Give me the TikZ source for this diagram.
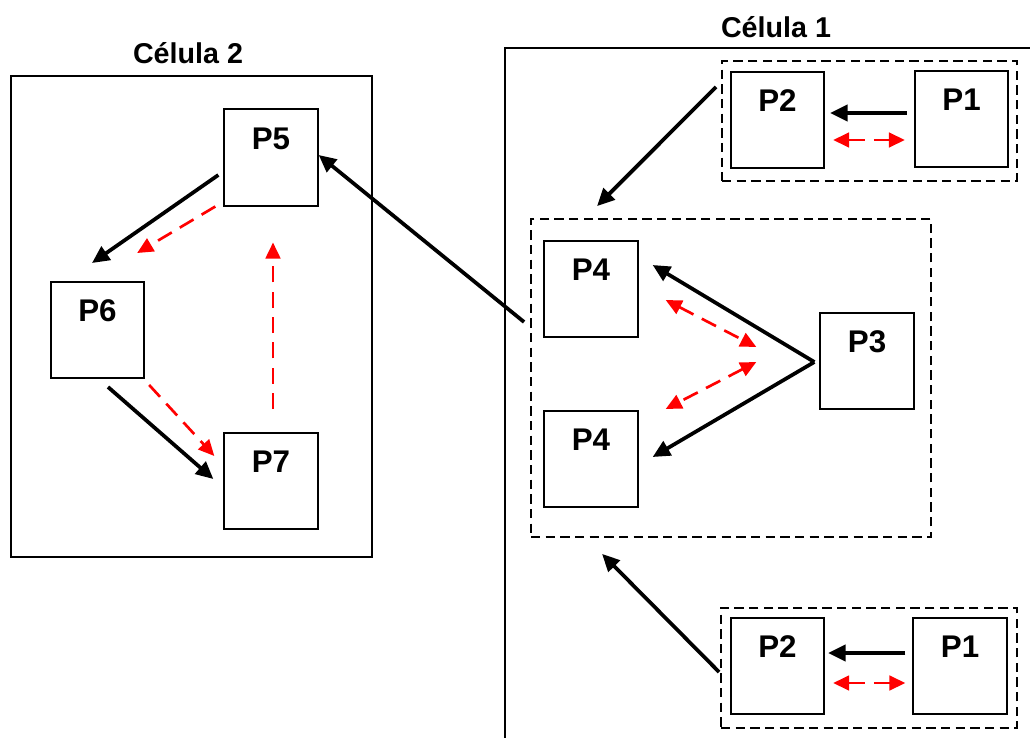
\documentclass[tikz,border=0pt]{standalone}
\usepackage{fontspec}
\setmainfont{Liberation Sans}
\usetikzlibrary{arrows.meta,calc}
\definecolor{redarr}{RGB}{255,0,0}
\tikzset{
  proc/.style={draw,line width=1.5pt,minimum width=#1,minimum height=72pt,inner sep=0pt},
  proc/.default=70pt,
  plabel/.style={font=\bfseries\fontsize{23.5}{23.5}\selectfont,anchor=center,inner sep=0pt},
  grp/.style={draw,line width=1.4pt,dash pattern=on 7pt off 4pt,inner sep=0pt},
  cell/.style={draw,line width=1.5pt,inner sep=0pt},
  blk/.style={line width=2.8pt,-{Triangle[length=13pt,width=12pt]}},
  rda/.style={redarr,line width=2pt,dash pattern=on 12pt off 7pt,-{Triangle[length=12pt,width=11pt]}},
  rdd/.style={redarr,line width=2pt,dash pattern=on 12pt off 7pt,{Triangle[length=12pt,width=11pt]}-{Triangle[length=12pt,width=11pt]}},
  title/.style={font=\bfseries\fontsize{21.5}{21.5}\selectfont,inner sep=0pt}
}
\begin{document}
\begin{tikzpicture}[x=0.75pt,y=-0.75pt]
\useasboundingbox (0,0) rectangle (1030,738);
% Cell 1 outline (open to the right and bottom)
\coordinate (c1tr) at (1030,48);
\coordinate (c1tl) at (505,48);
\coordinate (c1bl) at (505,738);
\draw[line width=1.5pt] (c1tr) -- (c1tl) -- (c1bl);
\node[title] (t1) at (776,27) {Célula 1};
% Cell 2
\node[cell,minimum width=270.75pt,minimum height=360.75pt] (c2) at (191.5,316.5) {};
\node[title] (t2) at (188,53) {Célula 2};
% groups
\node[grp,minimum width=221.25pt,minimum height=90pt] (g1) at (869.5,121) {};
\node[grp,minimum width=300pt,minimum height=238.5pt] (g2) at (731,378) {};
\node[grp,minimum width=222pt,minimum height=90pt] (g3) at (869,668) {};
% processes
\node[proc] (p2a) at (777.5,120) {};
\node[proc] (p1a) at (961.5,119) {};
\node[proc] (p4a) at (591,289) {};
\node[proc] (p4b) at (591,459) {};
\node[proc] (p3) at (867,361) {};
\node[proc] (p2b) at (777.5,666) {};
\node[proc] (p1b) at (960,666) {};
\node[proc] (p5) at (271,157.5) {};
\node[proc] (p6) at (97.5,330) {};
\node[proc] (p7) at (271,481) {};
\foreach \n/\t in {p2a/P2,p1a/P1,p4a/P4,p4b/P4,p3/P3,p2b/P2,p1b/P1,p5/P5,p6/P6,p7/P7}
  \node[plabel] (\n-l) at ([yshift=-22.5pt]\n.north) {\t};
% top group arrows
\draw[blk] ($(p1a.west)+(-7,-6)$) -- ($(p2a.east)+(5,-7)$);
\draw[rdd] ($(p2a.east)+(8,20)$) -- ($(p1a.west)+(-9,21)$);
% bottom group arrows
\draw[blk] ($(p1b.west)+(-7,-13)$) -- ($(p2b.east)+(3,-13)$);
\draw[rdd] ($(p2b.east)+(8,17)$) -- ($(p1b.west)+(-7,17)$);
% middle group
\draw[blk] ($(p3.west)+(-5,1)$) -- ($(p4a.east)+(14,-24)$);
\draw[blk] ($(p3.west)+(-5,1)$) -- ($(p4b.east)+(14,-2)$);
\draw[rdd] ($(p4a.east)+(27,11)$) -- ($(p3.west)+(-63,-14)$);
\draw[rdd] ($(p3.west)+(-63,1)$) -- ($(p4b.east)+(27,-50)$);
% group to group
\draw[blk] ($(g1.west)+(-5,-34)$) -- ($(g2.north west)+(67,-12)$);
\draw[blk] ($(g3.west)+(-1,4)$) -- ($(g2.south west)+(72,16)$);
\draw[blk] ($(g2.west)+(-6,-56)$) -- ($(p5.east)+(0,-2.5)$);
% cell 2
\draw[blk] ($(p5.west)+(-5,17.5)$) -- ($(p6.north)+(-5.5,-18)$);
\draw[rda] ($(p5.south west)+(-8,0)$) -- ($(p6.north east)+(-8,-28)$);
\draw[blk] ($(p6.south)+(10.5,8)$) -- ($(p7.west)+(-10,-2)$);
\draw[rda] ($(p6.south east)+(4,6)$) -- ($(p7.north west)+(-9,24)$);
\draw[rda] ($(p7.north)+(2,-23)$) -- ($(p5.south)+(2,36)$);
\end{tikzpicture}
\end{document}
